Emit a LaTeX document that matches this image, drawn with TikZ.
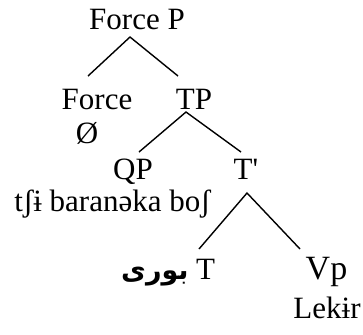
\documentclass[tikz,border=0pt]{standalone}
\usepackage{fontspec}
\setmainfont{Liberation Serif}
\newfontfamily\arabicfont[Script=Arabic]{DejaVu Sans}
\TeXXeTstate=1
\usetikzlibrary{positioning}

\begin{document}
\begin{tikzpicture}[
  x=0.5pt, y=-0.5pt,
  lbl/.style={inner sep=0pt, anchor=base, font=\fontsize{15.5}{18}\selectfont},
  big/.style={lbl, font=\fontsize{17}{20}\selectfont},
  arw/.style={inner sep=0pt, anchor=base east, font=\arabicfont\bfseries\fontsize{13.5}{16}\selectfont},
  branch/.style={line width=0.7pt, black},
]
  \useasboundingbox (0,0) rectangle (363,334);
  % Top of the tree
  \node[lbl] (fp) at (137,29) {Force P};
  \node[lbl] (force) at (97,109) {Force};
  \node[lbl] (null) at (87,143) {Ø};
  \node[lbl] (tp) at (194,109) {TP};
  % TP level
  \node[lbl] (qp) at (133,179) {QP};
  \node[lbl] (qpw) at (112.5,211) {tʃɨ baranəka boʃ};
  \node[lbl] (tbar) at (246,179) {T\textquotesingle};
  % T' level
  \node[lbl] (t) at (205.5,279) {T};
  \node[arw] (tw) at (189,279) {\beginR بوری\endR};
  \node[big] (vp) at (326.5,279) {Vp};
  \node[lbl, anchor=base east] (vpw) at (361,318) {Lekɨr};

  % Branches
  \draw[branch] ([shift={(-9,-33)}]force.base) -- ([shift={(-7,8)}]fp.base)
    -- ([shift={(-16,-33)}]tp.base);
  \draw[branch] ([shift={(6,-27)}]qp.base) -- ([shift={(-8,3)}]tp.base)
    -- ([shift={(-5,-27)}]tbar.base);
  \draw[branch] ([shift={(-6.5,-30)}]t.base) -- ([shift={(1,14)}]tbar.base)
    -- ([shift={(-26.5,-30)}]vp.base);
\end{tikzpicture}
\end{document}
